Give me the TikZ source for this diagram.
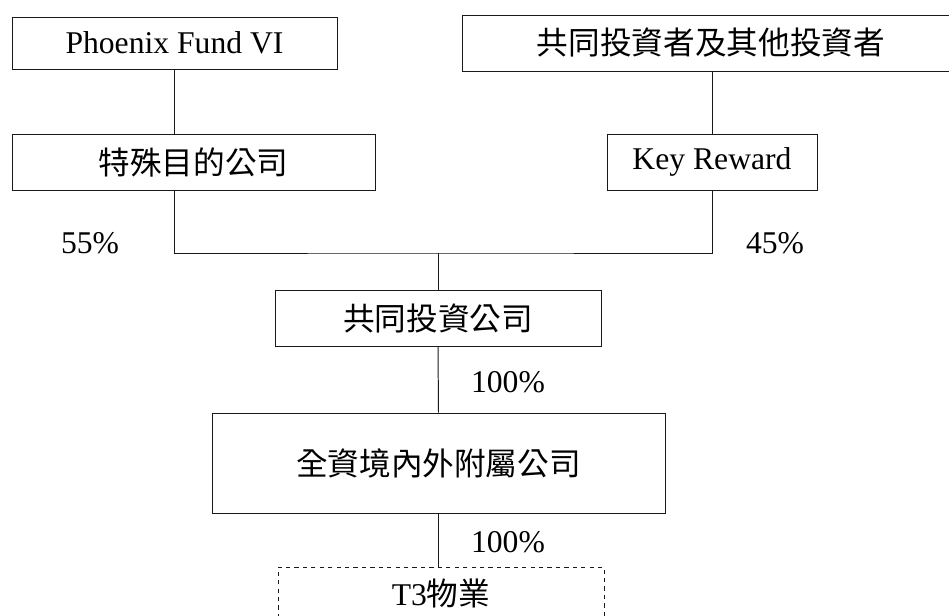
\documentclass[tikz,border=0pt]{standalone}
\usepackage{fontspec}
\setmainfont{Liberation Serif}
\newfontfamily\cjk{Noto Sans CJK TC}
\begin{document}
\begin{tikzpicture}[
        x=0.025cm,
        y=-0.025cm,
        line width=0.7pt,
        font=\fontsize{22.5}{26}\selectfont
    ]
    \tikzset{
        orgbox/.style = {rectangle, draw=black!90, align=center, fill=white, inner sep=0pt},
        orgboxd/.style = {orgbox, dashed},
        pct/.style = {inner sep=0pt},
        edgen/.style = {-, draw=black!90},
    }
    \useasboundingbox (0,0) rectangle (949,616);
    \node[orgbox, minimum width=325*0.025cm, minimum height=52*0.025cm] at (174.5,43) (phx) {Phoenix Fund VI};
    \node[orgbox, minimum width=498*0.025cm, minimum height=56*0.025cm] at (711,43) (inv) {\cjk 共同投資者及其他投資者};
    \node[orgbox, minimum width=363*0.025cm, minimum height=56*0.025cm] at (193.5,162) (spv) {\cjk 特殊目的公司};
    \node[orgbox, minimum width=210*0.025cm, minimum height=56*0.025cm] at (712,162) (key) {Key Reward};
    \node[orgbox, minimum width=326*0.025cm, minimum height=56*0.025cm] at (438,318) (jv) {\cjk 共同投資公司};
    \node[orgbox, minimum width=453*0.025cm, minimum height=100*0.025cm] at (438.5,463) (sub) {\cjk 全資境內外附屬公司};
    \node[orgboxd, minimum width=326*0.025cm, minimum height=52*0.025cm] at (441,593) (t3) {T3{\cjk 物業}};
    \coordinate (j) at (438,253);
    %
    \node[pct] at (90,243) (p55) {55\%};
    \node[pct] at (775,243) (p45) {45\%};
    \node[pct] at (508,382) (p100a) {100\%};
    \node[pct] at (508,542) (p100b) {100\%};
    %
    \draw[edgen] (phx.south) -- (phx.south |- spv.north);
    \draw[edgen] (key.north |- inv.south) -- (key.north);
    \draw[edgen] (phx.south |- spv.south) |- (j) -| (key.south);
    \draw[edgen] (j) -- (jv.north);
    \draw[edgen] (jv.south) -- (sub.north);
    \draw[edgen] (sub.south) -- (sub.south |- t3.north);
\end{tikzpicture}
\end{document}
